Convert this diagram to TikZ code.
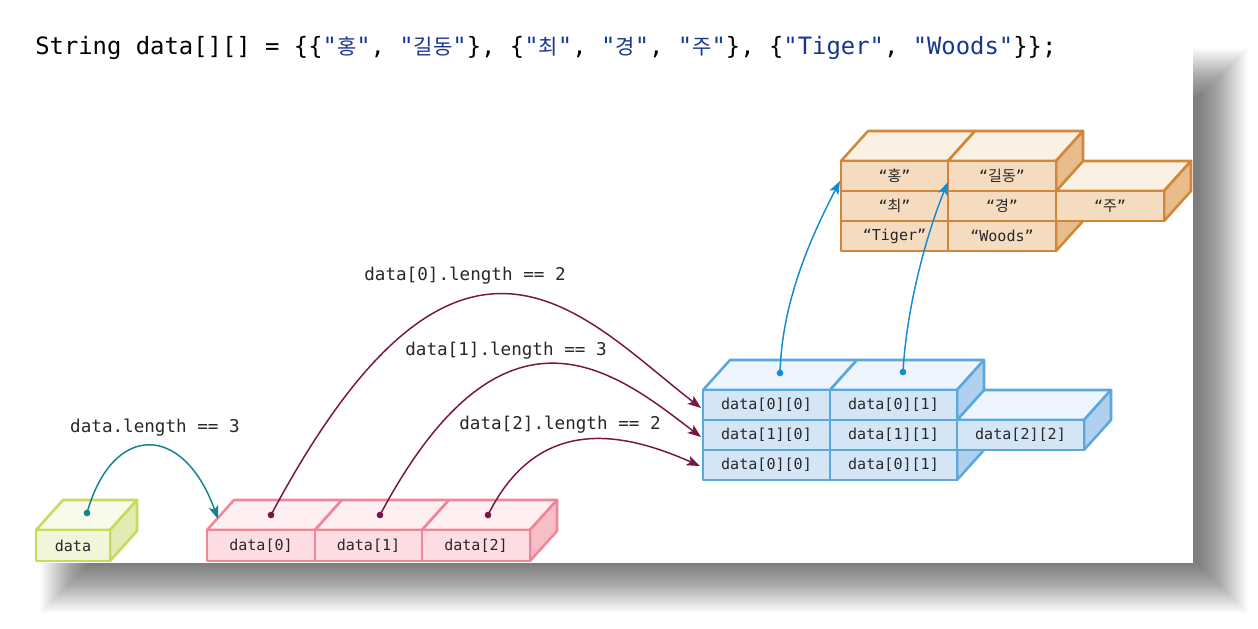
\documentclass[tikz,border=0pt]{standalone}
\usepackage{fontspec}
\setmonofont{DejaVu Sans Mono}
\newfontfamily\krh[Scale=0.88]{Noto Sans CJK KR}
\newfontfamily\krc{Noto Sans CJK KR}
\usetikzlibrary{arrows.meta}
\definecolor{gline}{RGB}{200,218,90}
\definecolor{gtop}{RGB}{248,251,236}
\definecolor{gfront}{RGB}{240,246,218}
\definecolor{gside}{RGB}{224,236,178}
\definecolor{pline}{RGB}{240,134,152}
\definecolor{ptop}{RGB}{254,240,242}
\definecolor{pfront}{RGB}{253,221,226}
\definecolor{pside}{RGB}{248,190,200}
\definecolor{bline}{RGB}{90,168,220}
\definecolor{btop}{RGB}{238,245,252}
\definecolor{bfront}{RGB}{212,230,246}
\definecolor{bside}{RGB}{176,208,238}
\definecolor{oline}{RGB}{208,136,56}
\definecolor{otop}{RGB}{250,240,228}
\definecolor{ofront}{RGB}{245,220,192}
\definecolor{oside}{RGB}{232,188,140}
\definecolor{teal}{RGB}{20,130,145}
\definecolor{maroon}{RGB}{120,20,70}
\definecolor{skyarrow}{RGB}{20,140,210}
\definecolor{strblue}{RGB}{25,55,140}
\definecolor{txt}{RGB}{40,40,40}
\tikzset{
  face/.style={line width=1.9pt, line join=round},
  celltext/.style={font=\ttfamily\fontsize{11.3}{13}\selectfont, text=txt, inner sep=0pt},
  lbl/.style={font=\ttfamily\fontsize{13.2}{15}\selectfont, text=txt, inner sep=0pt},
  conn/.style={line width=1.1pt, -{Stealth[length=10pt,width=7.5pt,inset=2.5pt]}},
  dotmark/.style={circle, inner sep=0pt, minimum size=5pt, fill=#1, draw=none},
}
% #1 name, #2 x1, #3 y1, #4 x2, #5 y2, #6 scheme, #7 text
\newcommand\boxcell[7]{%
  \filldraw[face, draw=#6line, fill=#6top] (#2,#3) -- ({#2+27},{#3-30}) -- ({#4+27},{#3-30}) -- (#4,#3) -- cycle;
  \filldraw[face, draw=#6line, fill=#6side] (#4,#3) -- ({#4+27},{#3-30}) -- ({#4+27},{#5-30}) -- (#4,#5) -- cycle;
  \filldraw[face, draw=#6line, fill=#6front] (#2,#3) rectangle (#4,#5);
  \node[celltext] (#1) at ({(#2+#4)/2},{(#3+#5)/2}) {#7};
}
\begin{document}
\begin{tikzpicture}[x=0.75pt,y=-0.75pt]
\useasboundingbox (0,0) rectangle (1258,629);
\fill[white] (0,0) rectangle (1258,629);
% shadow
\foreach \i in {0,...,49}{
  \fill[black, opacity=0.011] ({40+\i},{48+\i}) rectangle ({1248-\i},{613-\i});
}
\fill[white] (33,32) rectangle (1193,563);
% header
\node[anchor=base west, inner sep=0pt, font=\ttfamily\fontsize{17.9}{20}\selectfont] (code) at (35,54)
 {String data[][] = \{\{\textcolor{strblue}{"{\krh 홍}"}, \textcolor{strblue}{"{\krh 길동}"}\}, \{\textcolor{strblue}{"{\krh 최}"}, \textcolor{strblue}{"{\krh 경}"}, \textcolor{strblue}{"{\krh 주}"}\}, \{\textcolor{strblue}{"Tiger"}, \textcolor{strblue}{"Woods"}\}\};};
% green
\boxcell{g0}{36}{530}{110}{561}{g}{data}
% pink
\boxcell{p0}{207}{530}{315}{561}{p}{data[0]}
\boxcell{p1}{315}{530}{422}{561}{p}{data[1]}
\boxcell{p2}{422}{530}{530}{561}{p}{data[2]}
% blue
\boxcell{b20}{703}{450}{830}{480}{b}{data[0][0]}
\boxcell{b21}{830}{450}{957}{480}{b}{data[0][1]}
\boxcell{b10}{703}{420}{830}{450}{b}{data[1][0]}
\boxcell{b11}{830}{420}{957}{450}{b}{data[1][1]}
\boxcell{b12}{957}{420}{1084}{450}{b}{data[2][2]}
\boxcell{b00}{703}{390}{830}{420}{b}{data[0][0]}
\boxcell{b01}{830}{390}{957}{420}{b}{data[0][1]}
% orange
\boxcell{o20}{841}{221}{948}{251}{o}{“Tiger”}
\boxcell{o21}{948}{221}{1056}{251}{o}{“Woods”}
\boxcell{o10}{841}{191}{948}{221}{o}{“{\krc 최}”}
\boxcell{o11}{948}{191}{1056}{221}{o}{“{\krc 경}”}
\boxcell{o12}{1056}{191}{1164}{221}{o}{“{\krc 주}”}
\boxcell{o00}{841}{161}{948}{191}{o}{“{\krc 홍}”}
\boxcell{o01}{948}{161}{1056}{191}{o}{“{\krc 길동}”}
% labels
\node[lbl] (l0) at (155,428) {data.length == 3};
\node[lbl] (l1) at (465,276) {data[0].length == 2};
\node[lbl] (l2) at (506,351) {data[1].length == 3};
\node[lbl] (l3) at (560,425) {data[2].length == 2};
% dots
\node[dotmark=teal] (dg) at (87,513) {};
\node[dotmark=maroon] (dp0) at (271,515) {};
\node[dotmark=maroon] (dp1) at (380,515) {};
\node[dotmark=maroon] (dp2) at (488,515) {};
\node[dotmark=skyarrow] (db0) at (780,373) {};
\node[dotmark=skyarrow] (db1) at (903,372) {};
% arrow ends
\coordinate (tp) at (218,519);
\coordinate (tb0) at (701,408);
\coordinate (tb1) at (701,437);
\coordinate (tb2) at (700,466);
\coordinate (to0) at (840,181);
\coordinate (to1) at (948,182);
% connectors
\draw[conn, teal] (dg.center) .. controls (112,423) and (183,422) .. (tp);
\draw[conn, maroon] (dp0.center) .. controls (459,162) and (582,316) .. (tb0);
\draw[conn, maroon] (dp1.center) .. controls (505,280) and (617,373) .. (tb1);
\draw[conn, maroon] (dp2.center) .. controls (540,410) and (630,435) .. (tb2);
\draw[conn, skyarrow] (db0.center) .. controls (782,300) and (812,235) .. (to0);
\draw[conn, skyarrow] (db1.center) .. controls (907,300) and (930,225) .. (to1);
\end{tikzpicture}
\end{document}
